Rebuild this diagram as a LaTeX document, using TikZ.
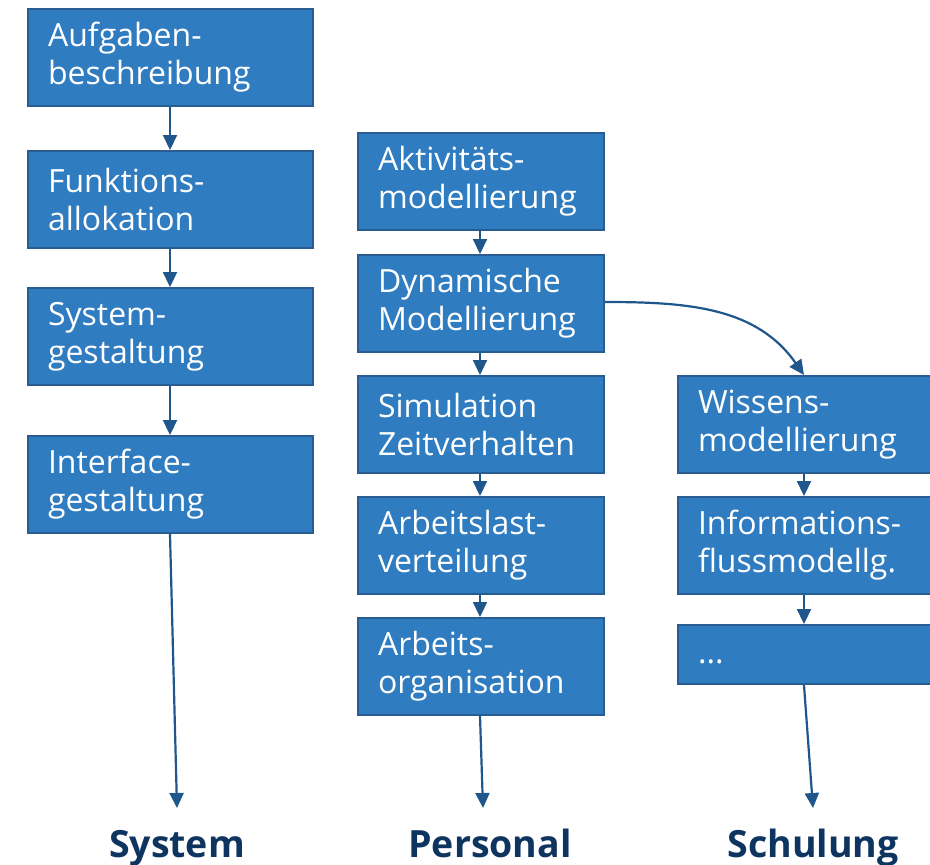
\documentclass[tikz,border=0pt]{standalone}
\usepackage{fontspec}
\setmainfont{Open Sans}
\usetikzlibrary{arrows.meta}
\definecolor{boxfill}{RGB}{47,124,192}
\definecolor{boxline}{RGB}{41,93,145}
\definecolor{arrowc}{RGB}{31,86,140}
\definecolor{labelc}{RGB}{14,52,96}
\tikzset{
  stage/.style={draw=boxline, line width=2pt, fill=boxfill, text=white,
    anchor=north west, inner xsep=20pt, inner ysep=0pt, align=left,
    font=\fontsize{32}{38}\selectfont},
  col1/.style={stage, minimum width=285pt, text width=245pt, minimum height=97pt},
  col2/.style={stage, minimum width=246pt, text width=206pt, minimum height=97pt},
  col3/.style={stage, minimum width=290pt, text width=250pt, minimum height=97pt},
  flow/.style={draw=arrowc, line width=2.2pt, -{Triangle[length=15pt,width=14pt]}},
  target/.style={text=labelc, anchor=base, font=\fontsize{37.5}{40}\selectfont\bfseries}
}
\begin{document}
\begin{tikzpicture}[x=1pt,y=-1pt]
\useasboundingbox (0,0) rectangle (930,865);
\clip (0,0) rectangle (930,865);

% System column
\node[col1] (a1) at (27,8) {Aufgaben-\\beschreibung};
\node[col1] (a2) at (27,150) {Funktions-\\allokation};
\node[col1] (a3) at (27,287) {System-\\gestaltung};
\node[col1] (a4) at (27,435) {Interface-\\gestaltung};
\node[target] (sys) at (177,857) {System};
\coordinate (sysend) at (177,808);

% Personal column
\node[col2] (b1) at (357,132) {Aktivitäts-\\modellierung};
\node[col2] (b2) at (357,254) {Dynamische\\Modellierung};
\node[col2] (b3) at (357,375) {Simulation\\Zeitverhalten};
\node[col2] (b4) at (357,496) {Arbeitslast-\\verteilung};
\node[col2] (b5) at (357,617) {Arbeits-\\organisation};
\node[target] (pers) at (490,857) {Personal};
\coordinate (persend) at (483,808);

% Schulung column
\node[col3] (c1) at (677,375) {Wissens-\\modellierung};
\node[col3] (c2) at (677,496) {Informations-\\flussmodellg.};
\node[col3, minimum height=59pt, text height=17pt, text depth=0pt] (c3) at (677,624) {...};
\node[target] (schul) at (813,857) {Schulung};
\coordinate (schulend) at (813,808);

% connectors
\draw[flow] (a1.south -| 170,0) -- (a2.north -| 170,0);
\draw[flow] (a2.south -| 170,0) -- (a3.north -| 170,0);
\draw[flow] (a3.south -| 170,0) -- (a4.north -| 170,0);
\draw[flow] (a4.south -| 170,0) -- (sysend);

\draw[flow] (b1.south -| 480,0) -- (b2.north -| 480,0);
\draw[flow] (b2.south -| 480,0) -- (b3.north -| 480,0);
\draw[flow] (b3.south -| 480,0) -- (b4.north -| 480,0);
\draw[flow] (b4.south -| 480,0) -- (b5.north -| 480,0);
\draw[flow] (b5.south -| 480,0) -- (persend);

\draw[flow] (c1.south -| 804,0) -- (c2.north -| 804,0);
\draw[flow] (c2.south -| 804,0) -- (c3.north -| 804,0);
\draw[flow] (c3.south -| 804,0) -- (schulend);

\draw[flow] (b2.east |- 0,302) to[out=0, in=125] (c1.north -| 804,0);
\end{tikzpicture}
\end{document}
